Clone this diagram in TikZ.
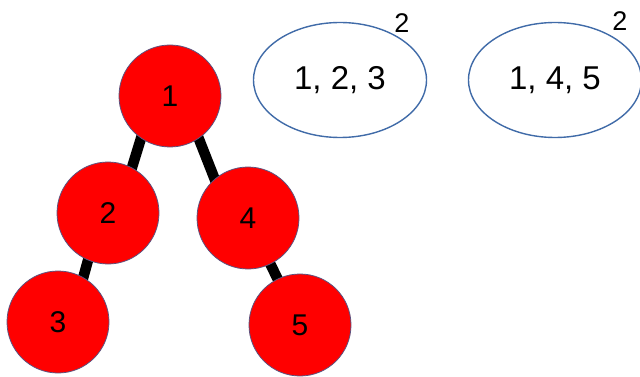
\documentclass[tikz,border=0pt]{standalone}
\usepackage{fontspec}
\setmainfont{Liberation Sans}
\usetikzlibrary{shapes.geometric}
\begin{document}
\begin{tikzpicture}[x=1pt,y=-1pt,line join=round]%tree
            \definecolor{nodered}{rgb}{1.0,0.0,0.0}
            \definecolor{rimgrey}{rgb}{0.36,0.33,0.5}
            \definecolor{setblue}{rgb}{0.25,0.42,0.66}
            \tikzset{vert/.style={circle,fill=nodered,draw=rimgrey,line width=.8pt,
                    minimum size=102pt,inner sep=0pt,font=\fontsize{30}{30}\selectfont}}
            \tikzset{bag/.style={ellipse,draw=setblue,line width=1.4pt,fill=white,
                    minimum width=173pt,minimum height=115pt,inner sep=0pt,font=\fontsize{33}{33}\selectfont}}
            \tikzset{edge/.style={line width=10.5pt,black}}
            \tikzset{mult/.style={inner sep=0pt,font=\fontsize{27}{27}\selectfont}}
            \useasboundingbox (0,0) rectangle (640,377);
            % edges first, circles on top
            \coordinate (n1) at (170,96);
            \coordinate (n2) at (108,213);
            \coordinate (n4) at (248,218);
            \coordinate (n3) at (58,322);
            \coordinate (n5) at (300,325);
            \draw[edge] ([xshift=-16pt]n1) -- ([xshift=10pt]n2);
            \draw[edge] ([xshift=12pt]n1) -- ([xshift=-18pt]n4);
            \draw[edge] ([xshift=-7pt]n2) -- ([xshift=13pt]n3);
            \draw[edge] (n4) -- (n5);
            % tree
            \node[vert] (v1) at (n1) {1};
            \node[vert] (v2) at (n2) {2};
            \node[vert] (v4) at (n4) {4};
            \node[vert] (v3) at (n3) {3};
            \node[vert] (v5) at (n5) {5};
            % bags
            \node[bag] (s1) at (340,80) {1, 2, 3};
            \node[bag] (s2) at (555,80) {1, 4, 5};
            \node[mult] (k1) at (402,23) {2};
            \node[mult] (k2) at (620,21) {2};
\end{tikzpicture}
\end{document}
